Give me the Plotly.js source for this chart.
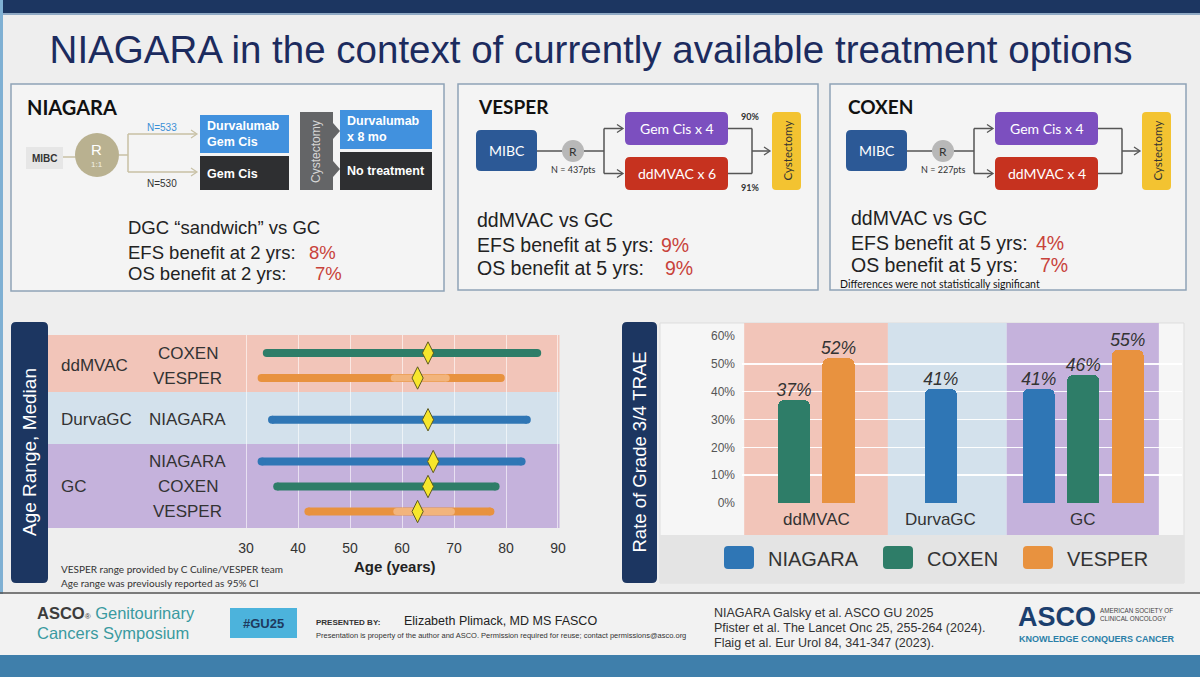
<!DOCTYPE html>
<html><head><meta charset="utf-8">
<script src="https://cdn.plot.ly/plotly-3.0.1.min.js"></script>
<style>html,body{margin:0;padding:0;background:#eeeeee;overflow:hidden}#chart{width:1200px;height:677px}</style>
</head><body><div id="chart"></div>
<script>
// ================= DATA =================
// Age range chart (rows top to bottom)
const ageRegimen = ['ddMVAC', 'ddMVAC', 'DurvaGC', 'GC', 'GC', 'GC'];
const ageStudy   = ['COXEN', 'VESPER', 'NIAGARA', 'NIAGARA', 'COXEN', 'VESPER'];
const ageMin     = [34, 33, 35, 33, 36, 42];
const ageMax     = [86, 79, 84, 83, 78, 77];
const ageMedian  = [65, 63, 65, 66, 65, 63];
const ageCiLow   = [null, 58.5, null, null, null, 59];
const ageCiHigh  = [null, 68.5, null, null, null, 69.5];
const ageTicks   = [30, 40, 50, 60, 70, 80, 90];

// Grade 3/4 TRAE chart
const regimens    = ['ddMVAC', 'DurvaGC', 'GC'];
const studies     = ['NIAGARA', 'COXEN', 'VESPER'];
const traeNiagara = [null, 41, 41];
const traeCoxen   = [37, null, 46];
const traeVesper  = [52, null, 55];
const traeTicks   = [0, 10, 20, 30, 40, 50, 60];

// ================= STYLE / LAYOUT =================
const W = 1200, H = 677;
const X = v => v / W, Y = v => 1 - v / H;
const SANS = 'Liberation Sans, Arial, sans-serif';
const CAL = 'Lato, Carlito, Calibri, sans-serif';
const studyColor = {NIAGARA: '#2f76b5', COXEN: '#2e7d68', VESPER: '#e8923f'};
const studyCiColor = {VESPER: '#f2b47c'};
const bandColor = {ddMVAC: '#f2c5b9', DurvaGC: '#d3e1ec', GC: '#c5b2dc'};
const RED = '#c8423a';

const shapes = [], ann = [];
function rect(x0, y0, x1, y1, fill, lc, lw) {
  shapes.push({type: 'rect', xref: 'paper', yref: 'paper', x0: X(x0), x1: X(x1), y0: Y(y1), y1: Y(y0),
    fillcolor: fill, line: {color: lc || 'rgba(0,0,0,0)', width: lw || 0}, layer: 'below'});
}
function pathPx(pts, fill, lc, lw, close) {
  let d = pts.map((p, i) => (i ? 'L' : 'M') + X(p[0]) + ',' + Y(p[1])).join(' ') + (close ? ' Z' : '');
  shapes.push({type: 'path', xref: 'paper', yref: 'paper', path: d, fillcolor: fill || 'rgba(0,0,0,0)',
    line: {color: lc || 'rgba(0,0,0,0)', width: lw || 0}, layer: 'below'});
}
function rrect(x0, y0, x1, y1, r, fill, lc, lw) {
  const P = (x, y) => X(x) + ',' + Y(y);
  const d = 'M' + P(x0 + r, y0) + ' L' + P(x1 - r, y0) + ' Q' + P(x1, y0) + ' ' + P(x1, y0 + r) +
    ' L' + P(x1, y1 - r) + ' Q' + P(x1, y1) + ' ' + P(x1 - r, y1) + ' L' + P(x0 + r, y1) +
    ' Q' + P(x0, y1) + ' ' + P(x0, y1 - r) + ' L' + P(x0, y0 + r) + ' Q' + P(x0, y0) + ' ' + P(x0 + r, y0) + ' Z';
  shapes.push({type: 'path', xref: 'paper', yref: 'paper', path: d, fillcolor: fill,
    line: {color: lc || 'rgba(0,0,0,0)', width: lw || 0}, layer: 'below'});
}
function circ(cx, cy, r, fill) {
  shapes.push({type: 'circle', xref: 'paper', yref: 'paper', x0: X(cx - r), x1: X(cx + r), y0: Y(cy + r), y1: Y(cy - r),
    fillcolor: fill, line: {width: 0}, layer: 'below'});
}
function seg(x0, y0, x1, y1, c, w) { pathPx([[x0, y0], [x1, y1]], null, c, w, false); }
function arrowHead(x, y, c, w) { pathPx([[x - 6, y - 4], [x, y], [x - 6, y + 4]], null, c, w || 1.5, false); }
function txt(x, y, text, size, color, o) {
  o = o || {};
  ann.push({xref: 'paper', yref: 'paper', x: X(x), y: Y(y), text: text, showarrow: false,
    xanchor: o.xa || 'left', yanchor: 'middle', align: o.align || 'left', textangle: o.angle || 0,
    font: {family: o.family || SANS, size: size, color: color, weight: o.weight || 'normal', style: o.style || 'normal'}});
}

// ---------- slide frame ----------
rect(0, 0, 1200, 13, '#1c3661');
rect(0, 13, 1200, 15, '#8fa9c4');
rect(0, 0, 3, 677, '#7fb0d3');

// ---------- top box 1 : NIAGARA ----------
rect(11, 84, 444, 291, '#f4f4f4', '#8fa3b6', 1.5);
txt(25, 107, 'NIAGARA', 20, '#111', {family: CAL, weight: 'bold'});
rect(26, 147, 63, 169, '#e6e6e6');
txt(44.5, 158, '<b>MIBC</b>', 10, '#333', {xa: 'center'});
seg(63, 157, 76, 157, '#c8c1a5', 1.5);
circ(97, 155, 22, '#b9b190');
txt(97, 150, 'R', 15, '#fff', {xa: 'center'});
txt(97, 165, '1:1', 8, '#f4f1e6', {xa: 'center'});
seg(119, 155, 128, 155, '#c8c1a5', 1.5);
seg(128, 134, 128, 172, '#c8c1a5', 1.5);
seg(128, 134, 196, 134, '#c8c1a5', 1.5);
seg(128, 172, 196, 172, '#c8c1a5', 1.5);
arrowHead(197, 134, '#c8c1a5', 1.2);
arrowHead(197, 172, '#c8c1a5', 1.2);
txt(162, 127, 'N=533', 10, '#3a8fd6', {xa: 'center'});
txt(162, 183, 'N=530', 10, '#333', {xa: 'center'});
rect(200, 115, 289, 153, '#4191de');
txt(205, 134, '<b>Durvalumab<br>Gem Cis</b>', 12.5, '#fff');
rect(200, 156, 289, 190, '#2e2f31');
txt(205, 174, '<b>Gem Cis</b>', 12.5, '#fff');
pathPx([[300, 112], [333, 112], [333, 123], [340, 131], [333, 139], [333, 161], [340, 169], [333, 177], [333, 190], [300, 190]], '#646567', null, 0, true);
txt(316, 151, 'Cystectomy', 12, '#d6d6d6', {xa: 'center', angle: -90});
rect(340, 110, 432, 149, '#4191de');
txt(345, 129, '<b>Durvalumab<br>x 8 mo</b>', 12.5, '#fff');
rect(340, 152, 432, 190, '#2e2f31');
txt(345, 171, '<b>No treatment</b>', 12.5, '#fff');
txt(126, 227, 'DGC \u201csandwich\u201d vs GC', 18.5, '#222');
txt(126, 252, 'EFS benefit at 2 yrs:', 18.5, '#222');
txt(307, 252, '8%', 18.5, RED);
txt(126, 273, 'OS benefit at 2 yrs:', 18.5, '#222');
txt(313, 273, '7%', 18.5, RED);

// ---------- top boxes 2 & 3 : VESPER / COXEN ----------
function trialBox(dx, bx0, bx1, name, npts, redTxt, pct, lines, pctX, tx, ty) {
  rect(bx0, 84, bx1, 290, '#f4f4f4', '#8fa3b6', 1.5);
  txt(476 + dx, 107, name, 19, '#111', {family: CAL, weight: 'bold'});
  rrect(476 + dx, 130, 537 + dx, 171, 5, '#2c5996');
  txt(506.5 + dx, 150.5, 'MIBC', 14, '#fff', {xa: 'center', family: CAL});
  seg(537 + dx, 151, 562 + dx, 151, '#555', 1.5);
  circ(573 + dx, 151, 11, '#b8b8b8');
  txt(573 + dx, 151, 'R', 12, '#333', {xa: 'center', family: CAL});
  seg(584 + dx, 151, 604 + dx, 151, '#555', 1.5);
  seg(604 + dx, 128.5, 604 + dx, 173.5, '#555', 1.5);
  seg(604 + dx, 128.5, 622 + dx, 128.5, '#555', 1.5);
  seg(604 + dx, 173.5, 622 + dx, 173.5, '#555', 1.5);
  arrowHead(623 + dx, 128.5, '#555', 1.3);
  arrowHead(623 + dx, 173.5, '#555', 1.3);
  txt(573 + dx, 169, npts, 9, '#333', {xa: 'center', family: CAL});
  rrect(625 + dx, 112, 728 + dx, 145, 5, '#7c4fbf');
  txt(676.5 + dx, 128.5, 'Gem Cis x 4', 14, '#fff', {xa: 'center', family: CAL});
  rrect(625 + dx, 157, 728 + dx, 190, 5, '#c6321f');
  txt(676.5 + dx, 173.5, redTxt, 14, '#fff', {xa: 'center', family: CAL});
  seg(728 + dx, 128.5, 752 + dx, 128.5, '#555', 1.5);
  seg(728 + dx, 173.5, 752 + dx, 173.5, '#555', 1.5);
  seg(752 + dx, 128.5, 752 + dx, 173.5, '#555', 1.5);
  seg(752 + dx, 151, 769 + dx, 151, '#555', 1.5);
  arrowHead(770 + dx, 151, '#555', 1.3);
  if (pct) {
    txt(750 + dx, 117, '<b>' + pct[0] + '</b>', 9, '#333', {xa: 'center', family: CAL});
    txt(750 + dx, 187, '<b>' + pct[1] + '</b>', 9, '#333', {xa: 'center', family: CAL});
  }
  rrect(772 + dx, 112, 801 + dx, 190, 4, '#f3c331');
  txt(786.5 + dx, 151, 'Cystectomy', 11.5, '#333', {xa: 'center', angle: -90, family: CAL});
  txt(tx, ty[0], lines[0], 19.5, '#222');
  txt(tx, ty[1], lines[1], 19.5, '#222');
  txt(pctX[0], ty[1], lines[2], 19.5, RED);
  txt(tx, ty[2], lines[3], 19.5, '#222');
  txt(pctX[1], ty[2], lines[4], 19.5, RED);
}
trialBox(0, 458, 818, 'VESPER', 'N = 437pts', 'ddMVAC x 6', ['90%', '91%'],
  ['ddMVAC vs GC', 'EFS benefit at 5 yrs:', '9%', 'OS benefit at 5 yrs:', '9%'], [659, 663], 475, [220, 245, 268]);
trialBox(370, 830, 1186, 'COXEN', 'N = 227pts', 'ddMVAC x 4', null,
  ['ddMVAC vs GC', 'EFS benefit at 5 yrs:', '4%', 'OS benefit at 5 yrs:', '7%'], [1034, 1038], 849, [218, 243, 265]);
txt(838, 284, 'Differences were not statistically significant', 10.5, '#111', {family: CAL});

// ---------- title ----------
const titleText = 'NIAGARA in the context of currently available treatment options';

// ---------- AGE RANGE CHART ----------
const groupGap = 0.67;
const ageGroups = [...new Set(ageRegimen)];
const rowPos = ageRegimen.map((r, i) => i + ageGroups.indexOf(r) * groupGap);
const ageBandEdges = [-0.72, 1.56, 3.64, 7.0];
rrect(11, 322, 48, 583, 5, '#1c3661');
txt(30, 452, 'Age Range, Median', 19, '#fff', {xa: 'center', angle: -90});
ageGroups.forEach((g, k) => {
  shapes.push({type: 'rect', xref: 'paper', yref: 'y', x0: X(48), x1: X(559.5), y0: ageBandEdges[k], y1: ageBandEdges[k + 1],
    fillcolor: bandColor[g], line: {width: 0}, layer: 'below'});
  const ys = rowPos.filter((p, i) => ageRegimen[i] === g);
  ann.push({xref: 'paper', yref: 'y', x: X(59), y: ys.reduce((a, b) => a + b, 0) / ys.length, text: g, showarrow: false,
    xanchor: 'left', yanchor: 'middle', font: {family: SANS, size: 17, color: '#333'}});
});
ageStudy.forEach((s, i) => {
  ann.push({xref: 'paper', yref: 'y', x: X(187.5), y: rowPos[i], text: s, showarrow: false,
    xanchor: 'center', yanchor: 'middle', font: {family: SANS, size: 17, color: '#333'}});
});
txt(59, 569, 'VESPER range provided by C Culine/VESPER team', 10, '#333', {family: CAL});
txt(59, 583, 'Age range was previously reported as 95% CI', 10, '#333', {family: CAL});

const traces = [];
studies.forEach(s => {
  const xs = [], ys = [];
  ageStudy.forEach((st, i) => { if (st === s) { xs.push(ageMin[i], ageMax[i], null); ys.push(rowPos[i], rowPos[i], null); } });
  traces.push({type: 'scatter', mode: 'lines+markers', x: xs, y: ys, xaxis: 'x', yaxis: 'y', hoverinfo: 'skip',
    line: {color: studyColor[s], width: 8}, marker: {color: studyColor[s], size: 8}, showlegend: false, cliponaxis: false});
});
{
  const xs = [], ys = [];
  ageCiLow.forEach((v, i) => { if (v != null) { xs.push(v, ageCiHigh[i], null); ys.push(rowPos[i], rowPos[i], null); } });
  traces.push({type: 'scatter', mode: 'lines+markers', x: xs, y: ys, xaxis: 'x', yaxis: 'y', hoverinfo: 'skip',
    line: {color: studyCiColor.VESPER, width: 7}, marker: {color: studyCiColor.VESPER, size: 7}, showlegend: false});
}
traces.push({type: 'scatter', mode: 'markers', x: ageMedian, y: rowPos, xaxis: 'x', yaxis: 'y', hoverinfo: 'skip',
  marker: {symbol: 'diamond-tall', size: 16, color: '#f7e62c', line: {color: '#5e5a22', width: 1}}, showlegend: false, cliponaxis: false});

// ---------- TRAE BAR CHART ----------
const traeSeries = {NIAGARA: traeNiagara, COXEN: traeCoxen, VESPER: traeVesper};
const groupCenter = [0.5, 3.3, 6.5];
const traeBandEdges = [-1.12, 2.11, 4.78, 8.2];
rect(660, 323, 1184, 583, '#f6f6f6', '#dddddd', 1);
rrect(622, 322, 657, 583, 5, '#1c3661');
txt(639.5, 452, 'Rate of Grade 3/4 TRAE', 18.5, '#fff', {xa: 'center', angle: -90});
regimens.forEach((r, c) => {
  shapes.push({type: 'rect', xref: 'x2', yref: 'paper', x0: traeBandEdges[c], x1: traeBandEdges[c + 1], y0: Y(535), y1: Y(323),
    fillcolor: bandColor[r], line: {width: 0}, layer: 'below'});
  ann.push({xref: 'x2', yref: 'paper', x: groupCenter[c], y: Y(519), text: r, showarrow: false,
    xanchor: 'center', yanchor: 'middle', font: {family: SANS, size: 17, color: '#333'}});
});
rect(660, 535, 1184, 583, '#e4e4e4');
const barPos = {};
studies.forEach(s => barPos[s] = []);
regimens.forEach((r, c) => {
  const present = studies.filter(s => traeSeries[s][c] != null);
  present.forEach((s, k) => { barPos[s][c] = groupCenter[c] + (k - (present.length - 1) / 2); });
});
studies.forEach(s => {
  const xs = [], ys = [];
  regimens.forEach((r, c) => { if (traeSeries[s][c] != null) { xs.push(barPos[s][c]); ys.push(traeSeries[s][c]); } });
  traces.push({type: 'bar', name: s, x: xs, y: ys, xaxis: 'x2', yaxis: 'y2', width: 0.72, hoverinfo: 'skip',
    marker: {color: studyColor[s], cornerradius: 6, line: {width: 0}}, showlegend: false});
  traces.push({type: 'scatter', mode: 'text', x: xs, y: ys, xaxis: 'x2', yaxis: 'y2', hoverinfo: 'skip',
    text: ys.map(v => v + '%'), textposition: 'top center', cliponaxis: false,
    textfont: {family: SANS, size: 17.5, color: '#333', style: 'italic'}, showlegend: false});
});
const legendX = [724, 883, 1023];
studies.forEach((s, k) => {
  rrect(legendX[k], 546, legendX[k] + 30, 569, 4, studyColor[s]);
  txt(legendX[k] + 42, 559, s, 20, '#333');
});

// ---------- FOOTER ----------
rect(0, 594, 1200, 655, '#f2f2f2');
seg(0, 593, 1200, 593, '#555', 1.5);
rect(0, 655, 1200, 677, '#3f7fab');
txt(35, 613, '<b><span style="color:#3c3c3c">ASCO</span></b><span style="color:#3c3c3c;font-size:8px">\u00ae</span> Genitourinary', 16.5, '#3a9aa0');
txt(35, 633, 'Cancers Symposium', 16.5, '#3a9aa0');
rect(230, 608, 297, 638, '#4cb3dc');
txt(263.5, 623, '<b>#GU25</b>', 13, '#1e3a5f', {xa: 'center'});
txt(314, 622, '<b>PRESENTED BY:</b>', 8, '#333');
txt(402, 621, 'Elizabeth Plimack, MD MS FASCO', 12.5, '#222');
txt(314, 635, 'Presentation is property of the author and ASCO. Permission required for reuse; contact permissions@asco.org', 7.5, '#333');
txt(712, 613, 'NIAGARA Galsky et al. ASCO GU 2025', 12.5, '#333');
txt(712, 628, 'Pfister et al. The Lancet Onc 25, 255-264 (2024).', 12.5, '#333');
txt(712, 643, 'Flaig et al. Eur Urol 84, 341-347 (2023).', 12.5, '#333');
txt(1016, 617, '<b>ASCO</b>', 27, '#1c3f6e');
txt(1098, 614, 'AMERICAN SOCIETY OF<br>CLINICAL ONCOLOGY', 6.3, '#444');
txt(1017, 639, '<b>KNOWLEDGE CONQUERS CANCER</b>', 9, '#2b7fa8');

// ---------- LAYOUT ----------
const layout = {
  width: W, height: H, margin: {l: 0, r: 0, t: 0, b: 0},
  paper_bgcolor: '#eeeeee', plot_bgcolor: 'rgba(0,0,0,0)',
  font: {family: SANS},
  title: {text: titleText, x: X(591), xanchor: 'center', y: Y(50), yanchor: 'middle', yref: 'paper',
    font: {family: SANS, size: 38.5, color: '#1c2b5e'}},
  xaxis: {domain: [X(230), X(559.5)], range: [26.92, 90.29], tickvals: ageTicks, showgrid: true,
    gridcolor: 'rgba(255,255,255,0.6)', gridwidth: 1, zeroline: false, showline: false, ticks: '',
    tickfont: {size: 14, color: '#333', family: SANS}, ticklabelstandoff: 10, anchor: 'y', fixedrange: true,
    title: {text: '<b>Age (years)</b>', font: {size: 15, color: '#222', family: SANS}, standoff: 6}},
  yaxis: {domain: [Y(528), Y(335)], range: [7.0, -0.72], showticklabels: false, showgrid: false,
    zeroline: false, showline: false, ticks: '', anchor: 'x', fixedrange: true},
  xaxis2: {domain: [X(742), X(1182)], range: [-1.169, 8.72], showticklabels: false, showgrid: false,
    zeroline: false, showline: false, ticks: '', anchor: 'y2', fixedrange: true},
  yaxis2: {domain: [Y(503), Y(336)], range: [0, 60], tickvals: traeTicks, ticktext: traeTicks.map(v => v + '%'),
    showgrid: true, gridcolor: 'rgba(255,255,255,0.95)', gridwidth: 1.5, zeroline: false, showline: false,
    ticks: '', tickfont: {size: 12, color: '#555', family: SANS}, ticklabelstandoff: 6, anchor: 'x2', fixedrange: true},
  shapes: shapes, annotations: ann, showlegend: false, bargap: 0
};
Plotly.newPlot('chart', traces, layout, {staticPlot: true, displayModeBar: false});
</script></body></html>
